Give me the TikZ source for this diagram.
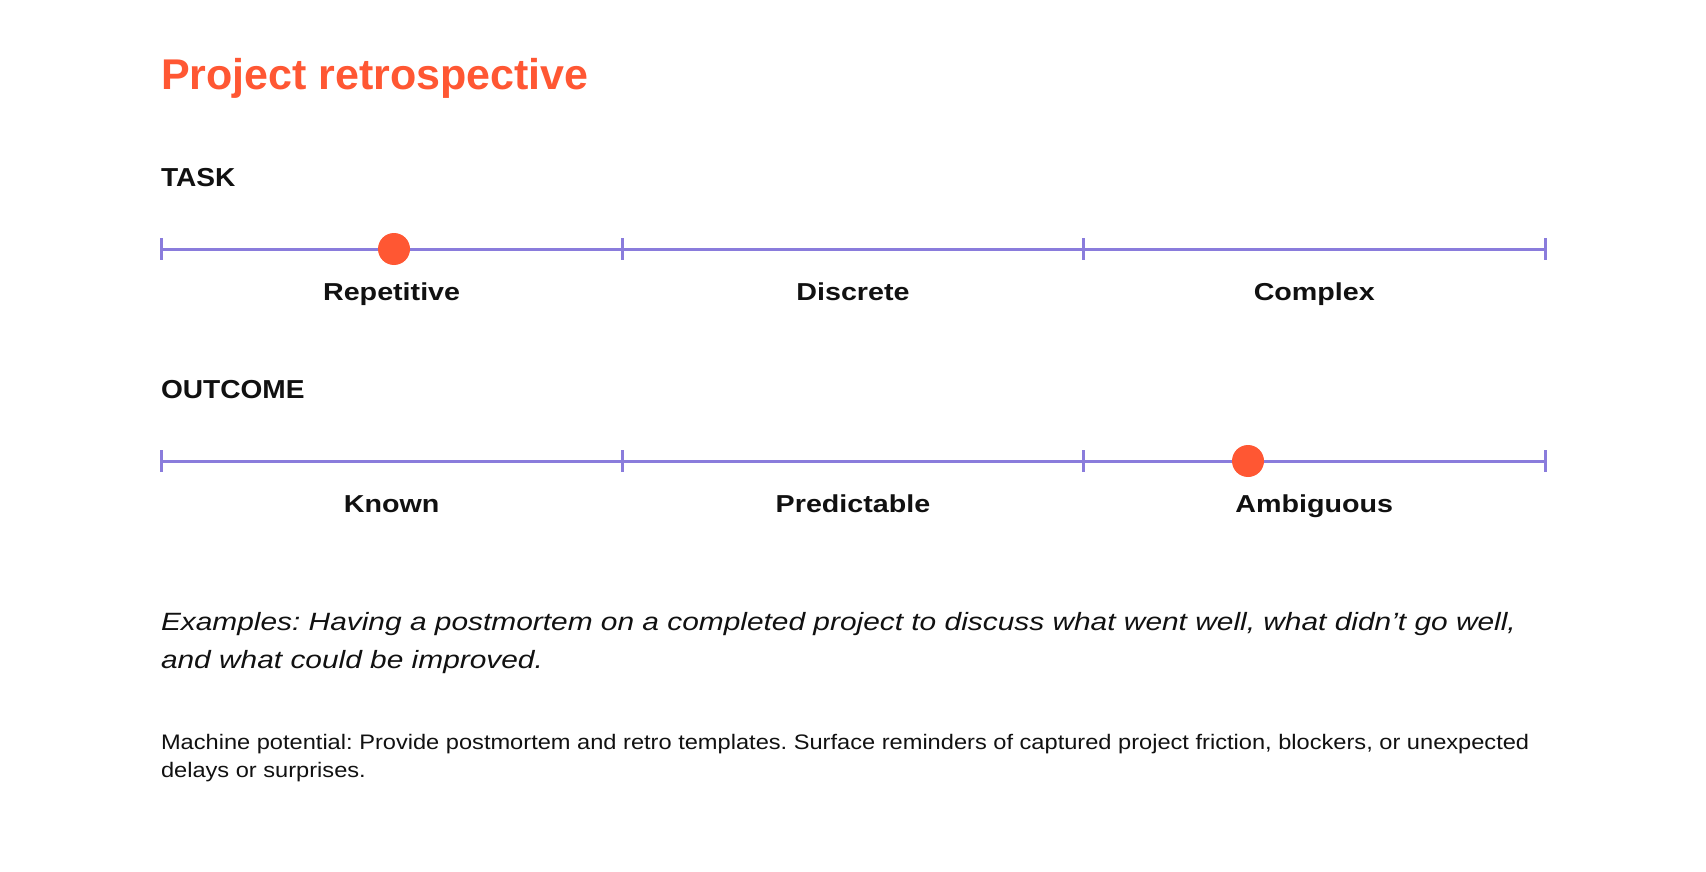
\documentclass[tikz,border=0pt]{standalone}
\usepackage{fontspec}
\setmainfont{Liberation Sans}
\newfontfamily\titlefont{Liberation Sans}
\newfontfamily\headfont[FakeStretch=1.08]{Liberation Sans}
\newfontfamily\labelfont[FakeStretch=1.17]{Liberation Sans}
\newfontfamily\exfont[FakeStretch=1.195]{Liberation Sans}
\newfontfamily\notefont[FakeStretch=1.125]{Liberation Sans}
\frenchspacing
\definecolor{accent}{HTML}{FF5733}
\definecolor{scalecol}{HTML}{8A7CDC}
\definecolor{ink}{HTML}{111111}
\begin{document}
\begin{tikzpicture}[x=1pt,y=-1pt,
  every node/.style={inner sep=0pt, outer sep=0pt, text=ink},
  titletext/.style={anchor=base west, text=accent, font=\titlefont\fontsize{43}{50}\selectfont\bfseries},
  heading/.style={anchor=base west, font=\headfont\fontsize{26}{30}\selectfont\bfseries},
  catlabel/.style={anchor=base, font=\labelfont\fontsize{24.5}{30}\selectfont\bfseries},
  axisline/.style={draw=scalecol, line width=3pt},
  tickmark/.style={draw=scalecol, line width=3pt},
  marker/.style={circle, fill=accent, minimum size=32pt, inner sep=0pt},
  example/.style={anchor=base west, font=\exfont\fontsize{25}{30}\selectfont\itshape},
  note/.style={anchor=base west, font=\notefont\fontsize{21}{28}\selectfont}]
\useasboundingbox[fill=white] (0,0) rectangle (1706,872);

\node[titletext] (title) at (161,90) {Project retrospective};

% TASK scale
\node[heading] (task) at (161,186) {TASK};
\coordinate (a1) at (161,249);
\coordinate (a2) at (622.3,249);
\coordinate (a3) at (1083.7,249);
\coordinate (a4) at (1545,249);
\draw[axisline] (a1) -- (a4);
\foreach \c in {a1,a2,a3,a4}
  \draw[tickmark] ([yshift=11pt]\c) -- ([yshift=-11pt]\c);
\node[marker] (dot1) at (394,249) {};
\node[catlabel] (rep) at (391.6,300) {Repetitive};
\node[catlabel] (dis) at (853,300) {Discrete};
\node[catlabel] (com) at (1314.3,300) {Complex};

% OUTCOME scale
\node[heading] (outcome) at (161,398) {OUTCOME};
\coordinate (b1) at (161,461);
\coordinate (b2) at (622.3,461);
\coordinate (b3) at (1083.7,461);
\coordinate (b4) at (1545,461);
\draw[axisline] (b1) -- (b4);
\foreach \c in {b1,b2,b3,b4}
  \draw[tickmark] ([yshift=11pt]\c) -- ([yshift=-11pt]\c);
\node[marker] (dot2) at (1248,461) {};
\node[catlabel] (kno) at (391.6,512) {Known};
\node[catlabel] (pre) at (853,512) {Predictable};
\node[catlabel] (amb) at (1314.3,512) {Ambiguous};

% texts
\node[example] (ex1) at (161,630) {Examples: Having a postmortem on a completed project to discuss what went well, what didn’t go well,};
\node[example] (ex2) at (161,668) {and what could be improved.};
\node[note] (mp1) at (161,749) {Machine potential: Provide postmortem and retro templates. Surface reminders of captured project friction, blockers, or unexpected};
\node[note] (mp2) at (161,777) {delays or surprises.};
\end{tikzpicture}
\end{document}
